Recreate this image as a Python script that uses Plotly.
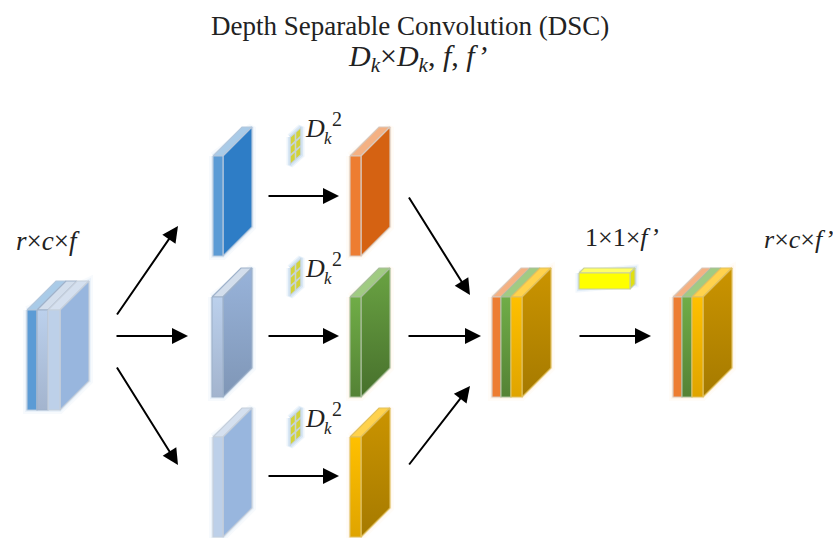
import plotly.graph_objects as go

W, H = 833, 538
BLOCK_H = 100
DEPTH_X, DEPTH_Y = 29, 29

BLUE = dict(front=("#5B9BD5", "#5B9BD5"), side=("#2E7DC6", "#2E7DC6"), top="#A9CBE8", line="#B4C7DC")
GREY = dict(front=("#BBD0EC", "#A3B4CE"), side=("#98B3DA", "#7F96B6"), top="#D3DEEC", line="#9FB2CA")
LIGHT = dict(front=("#BDD0E9", "#BDD0E9"), side=("#98B6DE", "#98B6DE"), top="#D5E0EF", line="#C6CFDB")
ORANGE = dict(front=("#ED7D31", "#ED7D31"), side=("#D56212", "#D56212"), top="#F4B183", line="#D9C8BC")
GREEN = dict(front=("#70AD47", "#548235"), side=("#6AA343", "#47702C"), top="#A0CB82", line="#A9BE9C")
GOLD = dict(front=("#FFC000", "#DFA400"), side=("#CB9400", "#A57A00"), top="#FFD24D", line="#E0C060")

single_blocks = [
    (213, 223, 156, BLUE), (212, 223, 297, GREY), (213, 223, 437, LIGHT),
    (350, 361, 156, ORANGE), (350, 361, 297, GREEN), (350, 361, 437, GOLD),
]
stacks = [
    (310, [(27, 37, BLUE), (37, 48, GREY), (48, 60, LIGHT)]),
    (297, [(492, 501, ORANGE), (501, 511, GREEN), (511, 522, GOLD)]),
    (297, [(673, 682, ORANGE), (682, 692, GREEN), (692, 703, GOLD)]),
]

kernel_x = [290, 301]
kernel_tops = [127, 258, 408]
kernel_rows = 3
kernel_cols = 2

yellow_x = [579, 630]
yellow_y = [273, 289]
yellow_depth = 5

arrow_starts = [(116, 316), (115, 336), (116, 366), (267, 196), (267, 336), (267, 476),
                (408, 196), (407, 336), (408, 466), (578, 336)]
arrow_ends = [(178, 226), (188, 336), (178, 465), (339, 196), (339, 336), (339, 476),
              (470, 295), (481, 336), (470, 386), (651, 336)]

title_text = "Depth Separable Convolution (DSC)"
subtitle_text = "<i>D<sub>k</sub></i>×<i>D<sub>k</sub></i>, <i>f</i>, <i>f’</i>"
dim_labels = [(48, 241, "<i>r</i>×<i>c</i>×<i>f</i>", 27),
              (622, 237, "1×1×<i>f’</i>", 26),
              (798, 239, "<i>r</i>×<i>c</i>×<i>f’</i>", 26)]
kernel_label_y = [128, 268, 418]

SERIF = "Liberation Serif, Times New Roman, serif"
fig = go.Figure()


def poly(xs, ys, fill, line=None, lw=1.2, grad=None):
    kw = {}
    if grad:
        kw["fillgradient"] = dict(type="vertical", colorscale=[[0, grad[1]], [1, grad[0]]])
    fig.add_trace(go.Scatter(
        x=list(xs) + [xs[0]], y=list(ys) + [ys[0]], mode="lines", fill="toself",
        fillcolor=fill, line=dict(color=line or "rgba(0,0,0,0)", width=lw),
        hoverinfo="skip", showlegend=False, **kw))


def glow(x0, x1, y, color):
    xs = [x0, x1 + DEPTH_X, x1 + DEPTH_X, x1, x0]
    ys = [y, y - DEPTH_Y, y + BLOCK_H - DEPTH_Y, y + BLOCK_H, y + BLOCK_H]
    for w, a in ((8, 0.05), (4, 0.08)):
        fig.add_trace(go.Scatter(
            x=xs + [x0], y=ys + [y], mode="lines",
            line=dict(color=f"rgba({color},{a})", width=w),
            hoverinfo="skip", showlegend=False))


def face_front(x0, x1, y, st):
    g = st["front"] if st["front"][0] != st["front"][1] else None
    poly([x0, x1, x1, x0], [y, y, y + BLOCK_H, y + BLOCK_H], st["front"][0], st["line"], grad=g)


def face_top(x0, x1, y, st):
    poly([x0, x1, x1 + DEPTH_X, x0 + DEPTH_X], [y, y, y - DEPTH_Y, y - DEPTH_Y], st["top"], st["line"])


def face_side(x1, y, st):
    g = st["side"] if st["side"][0] != st["side"][1] else None
    poly([x1, x1 + DEPTH_X, x1 + DEPTH_X, x1],
         [y, y - DEPTH_Y, y + BLOCK_H - DEPTH_Y, y + BLOCK_H], st["side"][0], st["line"], grad=g)


def glow_color(st):
    return "255,190,110" if st in (ORANGE, GOLD, GREEN) else "91,155,213"


for x0, x1, y, st in single_blocks:
    glow(x0, x1, y, glow_color(st))
    face_top(x0, x1, y, st)
    face_side(x1, y, st)
    face_front(x0, x1, y, st)

for y, layers in stacks:
    glow(layers[0][0], layers[-1][1], y, glow_color(layers[0][2]))
    for x0, x1, st in layers:
        face_top(x0, x1, y, st)
    face_side(layers[-1][1], y, layers[-1][2])
    for x0, x1, st in layers:
        face_front(x0, x1, y, st)

kx0, kx1 = kernel_x
for t in kernel_tops:
    skew = 10
    height = 28
    for w, a in ((7, 0.10), (4, 0.15)):
        fig.add_trace(go.Scatter(x=[kx0, kx1, kx1, kx0, kx0],
                                 y=[t + skew, t, t + height, t + height + skew, t + skew],
                                 mode="lines", line=dict(color=f"rgba(91,155,213,{a})", width=w),
                                 hoverinfo="skip", showlegend=False))
    poly([kx0, kx1, kx1, kx0], [t + skew, t, t + height, t + height + skew], "#C6D3DA", "#C8D8E4", 0.8)
    cw = (kx1 - kx0) / kernel_cols
    ch = height / kernel_rows
    slope = skew / (kx1 - kx0)
    for r in range(kernel_rows):
        for c in range(kernel_cols):
            xa, xb = kx0 + c * cw + 0.8, kx0 + (c + 1) * cw - 0.8
            top = t + skew + r * ch + 1.2
            bot = t + skew + (r + 1) * ch - 1.2
            poly([xa, xb, xb, xa],
                 [top - (xa - kx0) * slope, top - (xb - kx0) * slope,
                  bot - (xb - kx0) * slope, bot - (xa - kx0) * slope], "#D2D23A")

yx0, yx1 = yellow_x
yy0, yy1 = yellow_y
d = yellow_depth
for w, a in ((7, 0.08), (4, 0.13)):
    fig.add_trace(go.Scatter(x=[yx0, yx1 + d, yx1 + d, yx0, yx0], y=[yy0, yy0 - d, yy1 - d, yy1, yy0],
                             mode="lines", line=dict(color=f"rgba(91,155,213,{a})", width=w),
                             hoverinfo="skip", showlegend=False))
poly([yx0, yx1, yx1 + d, yx0 + d], [yy0, yy0, yy0 - d, yy0 - d], "#FFFF66", "#C8CFA0")
poly([yx1, yx1 + d, yx1 + d, yx1], [yy0, yy0 - d, yy1 - d, yy1], "#E0E010", "#C8CFA0")
poly([yx0, yx1, yx1, yx0], [yy0, yy0, yy1, yy1], "#FFFF00", "#C8CFA0")

ann = []
for (sx, sy), (ex, ey) in zip(arrow_starts, arrow_ends):
    ann.append(dict(x=ex, y=ey, ax=sx, ay=sy, xref="x", yref="y", axref="x", ayref="y", text="",
                    showarrow=True, arrowhead=2, arrowsize=1.6, arrowwidth=2, arrowcolor="#000000"))


def label(x, y, text, size):
    ann.append(dict(x=x, y=y, xref="x", yref="y", text=text, showarrow=False,
                    font=dict(family=SERIF, size=size, color="#222222"),
                    xanchor="center", yanchor="middle"))


label(410, 26, title_text, 27)
label(417, 58, subtitle_text, 30)
for x, y, t, s in dim_labels:
    label(x, y, t, s)
for yc in kernel_label_y:
    label(315, yc, "<i>D</i>", 26)
    label(328, yc + 10, "<i>k</i>", 17)
    label(337, yc - 9, "2", 20)

fig.update_layout(
    width=W, height=H, margin=dict(l=0, r=0, t=0, b=0),
    paper_bgcolor="white", plot_bgcolor="white", showlegend=False, annotations=ann,
    xaxis=dict(range=[0, W], visible=False, fixedrange=True),
    yaxis=dict(range=[H, 0], visible=False, fixedrange=True),
)
fig.write_html("out.html", post_script="document.body.style.margin='0';", config={"displayModeBar": False})
